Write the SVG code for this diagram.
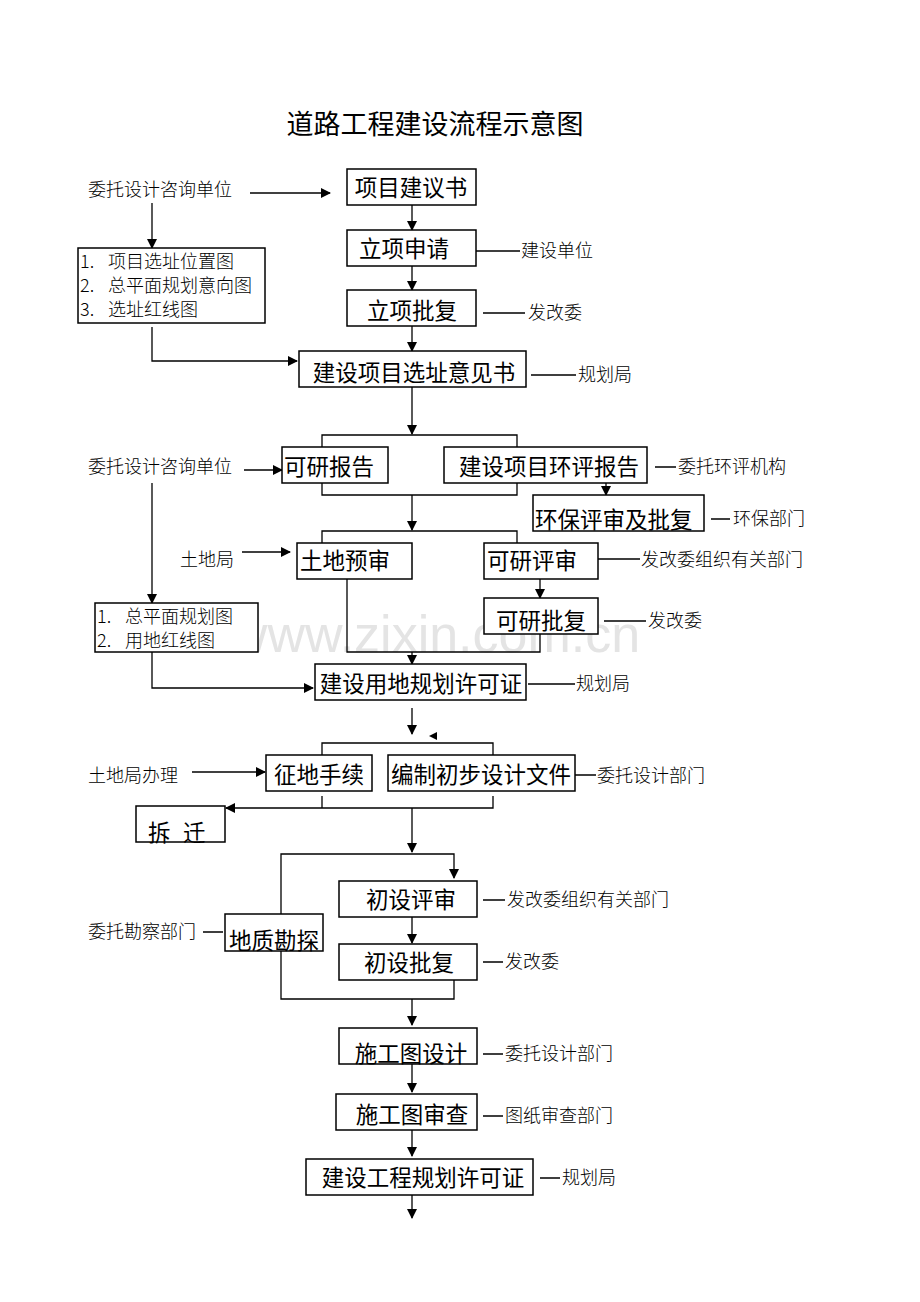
<svg xmlns="http://www.w3.org/2000/svg" width="920" height="1302" viewBox="0 0 920 1302">
<style>
.b{fill:#fff;stroke:#000;stroke-width:1.5}
.t{font-family:"Noto Sans CJK SC","Liberation Sans",sans-serif;font-size:22.5px;fill:#000}
.s{font-family:"Noto Sans CJK SC","Liberation Serif",serif;font-size:18px;fill:#000;font-weight:300}
.l{fill:none;stroke:#000;stroke-width:1.3}
</style>
<defs><marker id="a" markerWidth="10" markerHeight="10" refX="9" refY="5" orient="auto" markerUnits="userSpaceOnUse"><path d="M0,0 L10,5 L0,10z"/></marker></defs>
<rect width="920" height="1302" fill="#fff"/>
<text x="435" y="134" text-anchor="middle" style="font-family:'Noto Sans CJK SC',sans-serif;font-size:27px">道路工程建设流程示意图</text>
<text x="435" y="652" text-anchor="middle" style="font-family:'Liberation Sans',sans-serif;font-size:52px;fill:#e4e4e4">www.zixin.com.cn</text>
<g id="connectors" class="l">
<path d="M250,193H330" marker-end="url(#a)"/>
<path d="M152,203V248" marker-end="url(#a)"/>
<path d="M412,205V230" marker-end="url(#a)"/>
<path d="M412,266V290" marker-end="url(#a)"/>
<path d="M412,326V351" marker-end="url(#a)"/>
<path d="M152,327V361H297" marker-end="url(#a)"/>
<path d="M412,387V434" marker-end="url(#a)"/>
<path d="M322,447V435H517V447"/>
<path d="M244,470H282" marker-end="url(#a)"/>
<path d="M606,483V495" marker-end="url(#a)"/>
<path d="M322,483V495H517V483"/>
<path d="M412,495V530" marker-end="url(#a)"/>
<path d="M152,483V603" marker-end="url(#a)"/>
<path d="M322,543V531H517V543"/>
<path d="M242,552H290" marker-end="url(#a)"/>
<path d="M540,579V598" marker-end="url(#a)"/>
<path d="M347,579V652H540V634"/>
<path d="M412,652V664" marker-end="url(#a)"/>
<path d="M152,652V688H313" marker-end="url(#a)"/>
<path d="M412,708V734" marker-end="url(#a)"/>
<path d="M322,755V743H493V755"/>
<path d="M192,772H265" marker-end="url(#a)"/>
<path d="M322,796V808"/>
<path d="M493,796V808H226" marker-end="url(#a)"/>
<path d="M412,808V852" marker-end="url(#a)"/>
<path d="M281,914V854H454V878" marker-end="url(#a)"/>
<path d="M412,917V943" marker-end="url(#a)"/>
<path d="M281,951V999H454V980"/>
<path d="M412,999V1025" marker-end="url(#a)"/>
<path d="M412,1064V1092" marker-end="url(#a)"/>
<path d="M412,1130V1156" marker-end="url(#a)"/>
<path d="M412,1195V1218" marker-end="url(#a)"/>
<path d="M476,251H520M483,313H525M531,375H576M655,467H676M711,519H730M597,559H640M604,621H646M528,684H575M575,775H596M483,900H505M483,962H503M483,1054H503M483,1116H503M540,1178H560M203,932H223"/>
</g>
<path d="M437,732L429,736L437,740z"/>
<g id="n1"><rect class="b" x="347" y="169" width="129" height="36"/><text class="t" x="411" y="196" text-anchor="middle">项目建议书</text></g>
<g id="n2"><rect class="b" x="347" y="230" width="129" height="36"/><text class="t" x="404" y="257" text-anchor="middle">立项申请</text></g>
<g id="n3"><rect class="b" x="347" y="290" width="129" height="36"/><text class="t" x="412" y="319" text-anchor="middle">立项批复</text></g>
<g id="n4"><rect class="b" x="299" y="351" width="227" height="36"/><text class="t" x="414" y="381" text-anchor="middle">建设项目选址意见书</text></g>
<g id="list1"><rect class="b" x="78" y="248" width="187" height="75"/><text class="s" x="80" y="268">1.</text><text class="s" x="108" y="268">项目选址位置图</text><text class="s" x="80" y="292">2.</text><text class="s" x="108" y="292">总平面规划意向图</text><text class="s" x="80" y="316">3.</text><text class="s" x="108" y="316">选址红线图</text></g>
<g id="n5"><rect class="b" x="282" y="447" width="106" height="36"/><text class="t" x="284" y="475">可研报告</text></g>
<g id="n6"><rect class="b" x="444" y="447" width="203" height="36"/><text class="t" x="549" y="475" text-anchor="middle">建设项目环评报告</text></g>
<g id="n7"><rect class="b" x="533" y="495" width="171" height="36"/><text class="t" x="535" y="528">环保评审及批复</text></g>
<g id="n8"><rect class="b" x="297" y="543" width="115" height="36"/><text class="t" x="300" y="569">土地预审</text></g>
<g id="n9"><rect class="b" x="484" y="543" width="114" height="36"/><text class="t" x="487" y="569">可研评审</text></g>
<g id="n10"><rect class="b" x="484" y="598" width="114" height="36"/><text class="t" x="541" y="629" text-anchor="middle">可研批复</text></g>
<g id="list2"><rect class="b" x="95" y="603" width="163" height="49"/><text class="s" x="97" y="623">1.</text><text class="s" x="125" y="623">总平面规划图</text><text class="s" x="97" y="647">2.</text><text class="s" x="125" y="647">用地红线图</text></g>
<g id="n11"><rect class="b" x="315" y="664" width="211" height="36"/><text class="t" x="421" y="692" text-anchor="middle">建设用地规划许可证</text></g>
<g id="n12"><rect class="b" x="266" y="755" width="106" height="36"/><text class="t" x="319" y="783" text-anchor="middle">征地手续</text></g>
<g id="n13"><rect class="b" x="388" y="755" width="187" height="36"/><text class="t" x="481" y="783" text-anchor="middle">编制初步设计文件</text></g>
<g id="n14"><rect class="b" x="136" y="806" width="89" height="36"/><text class="t" x="148" y="841">拆</text><text class="t" x="183" y="841">迁</text></g>
<g id="n15"><rect class="b" x="339" y="881" width="138" height="36"/><text class="t" x="411" y="908" text-anchor="middle">初设评审</text></g>
<g id="n16"><rect class="b" x="339" y="944" width="138" height="36"/><text class="t" x="409" y="971" text-anchor="middle">初设批复</text></g>
<g id="n17"><rect class="b" x="225" y="914" width="98" height="37"/><text class="t" x="274" y="949" text-anchor="middle">地质勘探</text></g>
<g id="n18"><rect class="b" x="339" y="1028" width="138" height="36"/><text class="t" x="411" y="1062" text-anchor="middle">施工图设计</text></g>
<g id="n19"><rect class="b" x="336" y="1094" width="141" height="36"/><text class="t" x="412" y="1123" text-anchor="middle">施工图审查</text></g>
<g id="n20"><rect class="b" x="306" y="1159" width="227" height="36"/><text class="t" x="423" y="1186" text-anchor="middle">建设工程规划许可证</text></g>
<g id="labels">
<text class="s" x="88" y="196">委托设计咨询单位</text>
<text class="s" x="521" y="257">建设单位</text>
<text class="s" x="528" y="319">发改委</text>
<text class="s" x="578" y="381">规划局</text>
<text class="s" x="88" y="473">委托设计咨询单位</text>
<text class="s" x="678" y="473">委托环评机构</text>
<text class="s" x="733" y="525">环保部门</text>
<text class="s" x="180" y="566">土地局</text>
<text class="s" x="641" y="566">发改委组织有关部门</text>
<text class="s" x="648" y="627">发改委</text>
<text class="s" x="576" y="690">规划局</text>
<text class="s" x="88" y="782">土地局办理</text>
<text class="s" x="597" y="782">委托设计部门</text>
<text class="s" x="507" y="906">发改委组织有关部门</text>
<text class="s" x="88" y="938">委托勘察部门</text>
<text class="s" x="505" y="968">发改委</text>
<text class="s" x="505" y="1060">委托设计部门</text>
<text class="s" x="505" y="1122">图纸审查部门</text>
<text class="s" x="562" y="1184">规划局</text>
</g>
</svg>
